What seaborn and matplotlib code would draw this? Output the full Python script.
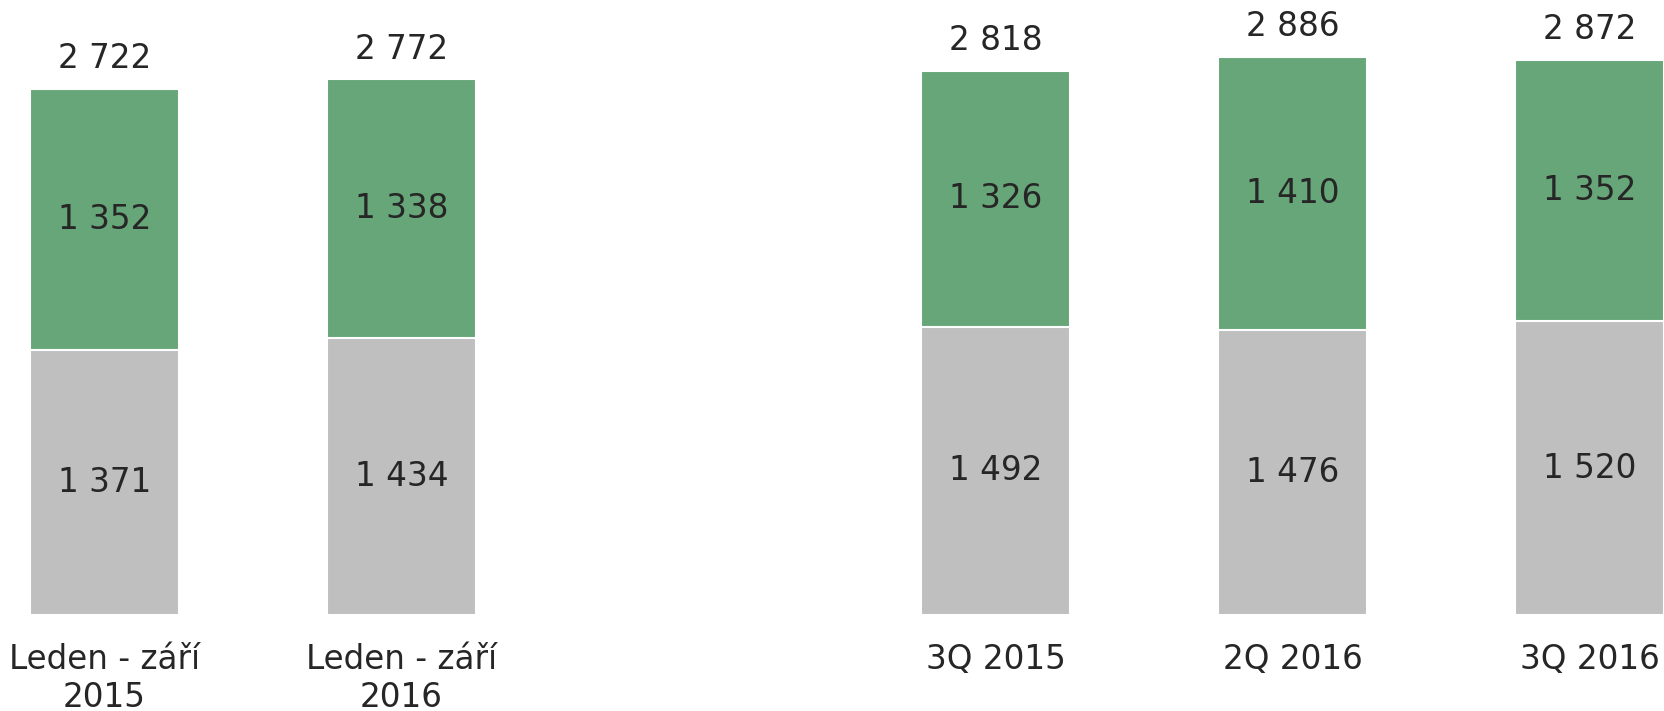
import matplotlib
matplotlib.use("Agg")
import matplotlib.pyplot as plt
import seaborn as sns
import pandas as pd

categories = ["Leden - září\n2015", "Leden - září\n2016", "3Q 2015", "2Q 2016", "3Q 2016"]
grey_values = [1371, 1434, 1492, 1476, 1520]
green_values = [1352, 1338, 1326, 1410, 1352]
totals = [2722, 2772, 2818, 2886, 2872]

order = categories[:2] + [" "] + categories[2:]

GREEN = "#67A678"
GREY = "#BFBFBF"
TEXT = "#262626"
FS = 23.5

sns.set_theme(style="white")
plt.rcParams["font.family"] = ["DejaVu Sans"]

df = pd.DataFrame({"cat": categories, "grey": grey_values,
                   "green": green_values, "total": totals})

fig = plt.figure(figsize=(16.64, 7.11), dpi=100)
ax = fig.add_axes([0, 0.135, 1, 0.865])

sns.barplot(data=df, x="cat", y="total", order=order, color=GREEN,
            saturation=1, width=0.5, edgecolor="white", linewidth=1.5,
            errorbar=None, ax=ax)
sns.barplot(data=df, x="cat", y="grey", order=order, color=GREY,
            saturation=1, width=0.5, edgecolor="white", linewidth=1.5,
            errorbar=None, ax=ax)

fmt = lambda v: f"{v:,}".replace(",", " ")
for cat, g, gr, t in zip(categories, grey_values, green_values, totals):
    xpos = order.index(cat)
    ax.text(xpos, g / 2, fmt(g), ha="center", va="center", fontsize=FS, color=TEXT)
    ax.text(xpos, g + gr / 2, fmt(gr), ha="center", va="center", fontsize=FS, color=TEXT)
    ax.annotate(fmt(t), (xpos, t), xytext=(0, 10), textcoords="offset points",
                ha="center", va="bottom", fontsize=FS, color=TEXT)

ax.set_xlim(-0.352, 5.251)
ax.set_ylim(0, 3183)
ax.set_xlabel("")
ax.set_ylabel("")
ax.set_yticks([])
ax.tick_params(axis="x", length=0, pad=20, labelsize=FS, labelcolor=TEXT)
for lbl in ax.get_xticklabels():
    lbl.set_linespacing(1.2)
for s in ax.spines.values():
    s.set_visible(False)

fig.savefig("out.png", dpi=100)
